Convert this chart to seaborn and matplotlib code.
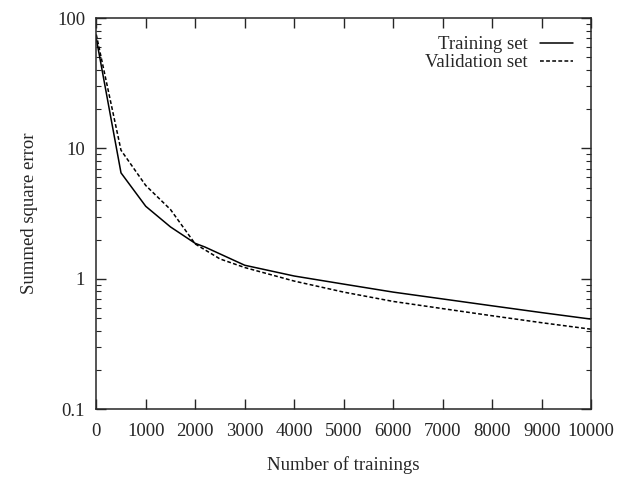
import numpy as np
import pandas as pd
import seaborn as sns
import matplotlib.pyplot as plt
from matplotlib.ticker import FixedLocator, FixedFormatter, LogLocator, NullFormatter

# -----------------------------
# DATA
# -----------------------------
train_x = [0, 500, 1000, 1500, 2000, 2200, 3000, 4000, 5000, 6000, 7000, 8000, 9000, 10000]
train_err = [70, 6.5, 3.6, 2.5, 1.87, 1.75, 1.27, 1.05, 0.91, 0.79, 0.70, 0.62, 0.55, 0.49]

valid_x = [0, 500, 1000, 1500, 2000, 2500, 3000, 4000, 5000, 6000, 7000, 8000, 9000, 10000]
valid_err = [75, 9.7, 5.2, 3.4, 1.85, 1.42, 1.22, 0.96, 0.79, 0.67, 0.59, 0.52, 0.46, 0.41]

df = pd.concat([
    pd.DataFrame({"trainings": train_x, "error": train_err, "series": "Training set"}),
    pd.DataFrame({"trainings": valid_x, "error": valid_err, "series": "Validation set"}),
])

y_ticks = [0.1, 1, 10, 100]
y_labels = ["0.1", "1", "10", "100"]
x_ticks = list(range(0, 10001, 1000))

# -----------------------------
# STYLE
# -----------------------------
sns.set_style("ticks")
plt.rcParams["font.family"] = ["Liberation Serif", "DejaVu Serif"]
plt.rcParams["font.size"] = 13.5
plt.rcParams["xtick.direction"] = "in"
plt.rcParams["ytick.direction"] = "in"

fig = plt.figure(figsize=(6.21, 4.79), dpi=100)
ax = fig.add_axes([0.155, 0.146, 0.797, 0.816])

sns.lineplot(data=df, x="trainings", y="error", style="series",
             dashes={"Training set": "", "Validation set": (2.5, 1.5)},
             color="black", linewidth=1.1, ax=ax)

ax.set_yscale("log")
ax.set_xlim(0, 10000)
ax.set_ylim(0.1, 100)
ax.xaxis.set_major_locator(FixedLocator(x_ticks))
ax.yaxis.set_major_locator(FixedLocator(y_ticks))
ax.yaxis.set_major_formatter(FixedFormatter(y_labels))
ax.yaxis.set_minor_locator(LogLocator(base=10, subs=np.arange(2, 10)))
ax.yaxis.set_minor_formatter(NullFormatter())

ax.tick_params(which="major", length=7, width=1, top=True, right=True, labelsize=13.5, pad=8)
ax.tick_params(axis="x", which="major", pad=10)
ax.tick_params(which="minor", length=3.5, width=0.8, top=True, right=True)
for s in ax.spines.values():
    s.set_linewidth(1.1)

ax.set_xlabel("Number of trainings", fontsize=13.5, labelpad=12)
ax.set_ylabel("Summed square error", fontsize=13.5, labelpad=14)

handles, labels = ax.get_legend_handles_labels()
pairs = [(h, l) for h, l in zip(handles, labels) if l in ("Training set", "Validation set")]
ax.legend([p[0] for p in pairs], [p[1] for p in pairs], loc="upper right",
          frameon=False, markerfirst=False, handlelength=1.8, handletextpad=0.65,
          labelspacing=0.05, borderaxespad=0.55, fontsize=13.5)

plt.savefig("out.png", dpi=100)
